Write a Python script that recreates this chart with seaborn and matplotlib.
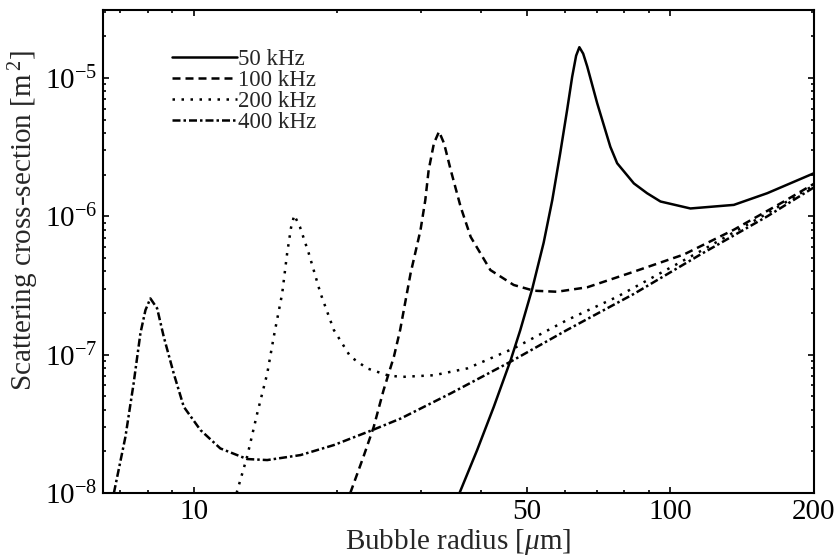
import numpy as np
import pandas as pd
import matplotlib
matplotlib.use("Agg")
import matplotlib.pyplot as plt
from matplotlib.ticker import (FixedLocator, FixedFormatter, LogLocator,
                               NullFormatter, LogFormatterMathtext)
import seaborn as sns

# Bubble radius [um] and scattering cross-section [m^2] for each frequency
radius_50k = [36.1, 39.3, 42.6, 46.2, 48.4, 51.3, 54.2, 56.5, 58.7, 60.7, 62.2,
              63.4, 64.4, 65.6, 66.9, 70.2, 74.8, 77.3, 83.8, 89.3, 95.3, 110.1,
              135.8, 159.6, 200.0]
xsec_50k = [1.0e-8, 2.04e-8, 4.2e-8, 9.1e-8, 1.5e-7, 3.0e-7, 6.45e-7, 1.31e-6,
            2.85e-6, 5.87e-6, 1.02e-5, 1.45e-5, 1.67e-5, 1.5e-5, 1.21e-5,
            6.56e-6, 3.18e-6, 2.42e-6, 1.73e-6, 1.47e-6, 1.28e-6, 1.14e-6,
            1.21e-6, 1.47e-6, 2.05e-6]

radius_100k = [21.3, 22.7, 23.85, 25.0, 26.3, 27.1, 28.5, 29.9, 30.6, 31.1, 31.9,
               32.7, 33.5, 34.6, 36.3, 38.1, 41.9, 46.9, 51.7, 57.8, 66.9,
               83.8, 106.7, 135.8, 172.9, 200.0]
xsec_100k = [1.0e-8, 1.83e-8, 3.0e-8, 5.5e-8, 9.7e-8, 1.51e-7, 3.87e-7, 7.96e-7,
             1.31e-6, 2.16e-6, 3.37e-6, 4.1e-6, 3.37e-6, 2.16e-6, 1.17e-6,
             7.1e-7, 4.09e-7, 3.19e-7, 2.9e-7, 2.85e-7, 3.07e-7, 3.98e-7,
             5.3e-7, 8.0e-7, 1.28e-6, 1.72e-6]

radius_200k = [12.3, 12.94, 13.59, 14.26, 14.72, 15.33, 15.7, 16.0, 16.25, 16.7,
               17.43, 18.45, 19.67, 21.3, 23.1, 25.5, 27.2, 31.9, 37.5, 46.9,
               60.7, 77.3, 115.6, 159.6, 200.0]
xsec_200k = [1.0e-8, 1.83e-8, 3.77e-8, 7.3e-8, 1.35e-7, 2.77e-7, 5.4e-7, 8.3e-7,
             1.02e-6, 8.4e-7, 5.4e-7, 2.77e-7, 1.51e-7, 9.7e-8, 7.96e-8, 7.1e-8,
             6.9e-8, 7.1e-8, 7.96e-8, 1.11e-7, 1.78e-7, 2.62e-7, 5.6e-7,
             1.05e-6, 1.68e-6]

radius_400k = [6.8, 7.19, 7.48, 7.73, 7.92, 8.11, 8.38, 8.65, 9.08, 9.53, 10.33,
               11.37, 12.94, 14.26, 16.75, 19.67, 23.7, 27.2, 34.6, 46.2, 60.7,
               83.8, 115.6, 159.6, 200.0]
xsec_400k = [1.0e-8, 2.55e-8, 6.2e-8, 1.43e-7, 2.1e-7, 2.55e-7, 2.16e-7, 1.35e-7,
             7.3e-8, 4.2e-8, 2.85e-8, 2.1e-8, 1.76e-8, 1.73e-8, 1.88e-8,
             2.22e-8, 2.85e-8, 3.46e-8, 5.25e-8, 8.9e-8, 1.51e-7, 2.75e-7,
             5.3e-7, 1.0e-6, 1.62e-6]

freq_labels = ["50 kHz", "100 kHz", "200 kHz", "400 kHz"]
x_tick_values = [10, 50, 100, 200]
x_tick_labels = ["10", "50", "100", "200"]

series = [(freq_labels[0], radius_50k, xsec_50k),
          (freq_labels[1], radius_100k, xsec_100k),
          (freq_labels[2], radius_200k, xsec_200k),
          (freq_labels[3], radius_400k, xsec_400k)]
df = pd.concat([pd.DataFrame({"radius": r, "xsec": s, "freq": name})
                for name, r, s in series], ignore_index=True)

sns.set_theme(style="ticks")
plt.rcParams.update({
    "font.family": ["Liberation Serif", "DejaVu Serif"],
    "mathtext.fontset": "custom",
    "mathtext.rm": "Liberation Serif",
    "mathtext.it": "Liberation Serif:italic",
    "axes.linewidth": 1.5,
    "axes.edgecolor": "black",
    "xtick.color": "black",
    "ytick.color": "black",
})

line_styles = {
    "50 kHz": "",
    "100 kHz": (3.2, 2.0),
    "200 kHz": (1.0, 2.6),
    "400 kHz": (3.2, 1.2, 1.0, 1.2),
}

fig, ax = plt.subplots(figsize=(8.37, 5.58), dpi=100)
fig.subplots_adjust(left=0.123, right=0.9725, bottom=0.1165, top=0.982)

sns.lineplot(data=df, x="radius", y="xsec", style="freq", style_order=freq_labels,
             dashes=line_styles, color="black", linewidth=1.8, estimator=None,
             ax=ax)

ax.set_xscale("log")
ax.set_yscale("log")
ax.set_xlim(6.45, 200)
ax.set_ylim(1e-8, 3.1e-5)

ax.xaxis.set_major_locator(FixedLocator(x_tick_values))
ax.xaxis.set_major_formatter(FixedFormatter(x_tick_labels))
ax.xaxis.set_minor_locator(LogLocator(base=10, subs=np.arange(2, 10)))
ax.xaxis.set_minor_formatter(NullFormatter())
ax.yaxis.set_major_locator(LogLocator(base=10))
ax.yaxis.set_major_formatter(LogFormatterMathtext())
ax.yaxis.set_minor_locator(LogLocator(base=10, subs=np.arange(2, 10)))
ax.yaxis.set_minor_formatter(NullFormatter())

ax.tick_params(which="both", direction="in", top=True, right=True,
               labelsize=21, width=1.2)
ax.tick_params(which="major", length=4.5, pad=4)
ax.tick_params(which="minor", length=2.5)

ax.set_xlabel(r"Bubble radius [$\mu$m]", fontsize=21, labelpad=2)
ax.set_ylabel(r"Scattering cross-section [m$\,^{2}$]", fontsize=21)
ax.yaxis.set_label_coords(-0.087, 0.565)

handles, labels = ax.get_legend_handles_labels()
ax.legend(handles=handles, labels=labels, loc="upper left",
          bbox_to_anchor=(0.097, 0.92), frameon=False, fontsize=16.5,
          handlelength=2.84, handletextpad=0.05, labelspacing=0.0,
          borderpad=0, borderaxespad=0)

fig.savefig("out.png", dpi=100)
